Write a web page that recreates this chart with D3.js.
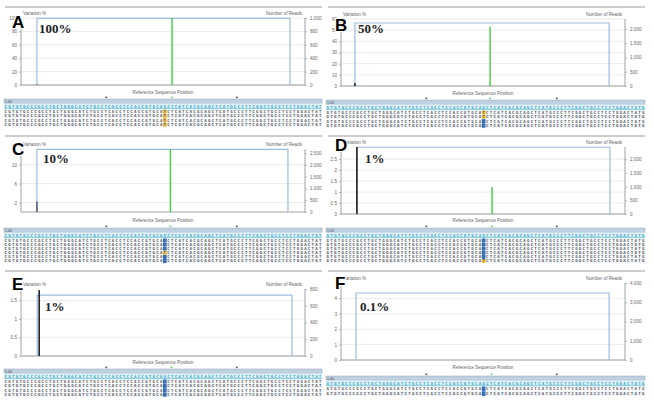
<!DOCTYPE html>
<html><head><meta charset="utf-8">
<script src="https://cdn.jsdelivr.net/npm/d3@7/dist/d3.min.js"></script>
<style>body{margin:0;background:#fff}svg{display:block}</style>
</head><body><svg id="c" width="653" height="408"></svg>
<script>
// ---------- data ----------
const panelIds = ["A","B","C","D","E","F"];
const mutantLabels = ["100%","50%","10%","1%","1%","0.1%"];
const variationMax = [100, 60, 13.3, 3.05, 1.81, 5];
const variationTicks = [[0,20,40,60,80,100],[0,10,20,30,40,50,60],[2,6,10],[0,0.5,1,1.5,2,2.5],[0,0.5,1,1.5],[0,1,2,3,4]];
const readsMax = [1000, 2350, 2670, 2450, 800, 4000];
const readsTicks = [[0,200,400,600,800,1000],[0,500,1000,1500,2000],[0,500,1000,1500,2000,2500],[0,500,1000,1500,2000],[0,200,400,600,800],[0,1000,2000,3000,4000]];
const coverageStart = [5.6, 4.9, 5.6, 5.6, 5.7, 5.3];
const coverageEnd = [94.7, 94.4, 94.0, 94.7, 95.4, 94.4];
const coverageReads = [995, 2210, 2650, 2440, 728, 3480];
const variantPos = [53.2, 52.5, 52.6, 53.2, 53.0, 53.0];
const variantFreq = [100, 53, 13.3, 1.23, 0, 0];
const noisePos = [5.6, 4.9, 5.6, 5.6, 6.4, 5.3];
const noiseFreq = [0.6, 2.6, 2.2, 3.05, 1.78, 0];
const markerPos = [30, 76];
const readAlleles = [["T","T","T","T"],["T","T","C","C"],["C","C","C","T","C","C"],["C","C","C","C","C","T"],["C","C","C","C"],["C","C"]];
const referenceSeq = "CGTGTGCCCGCCTGCTGGGCATCTGCCTCACCTCCACCGTGCAGCTCATCACGCAGCTCATGCCCTTCGGCTGCCTCCTGGACTATG";

// ---------- layout ----------
const cols = [
  {plotL:21, plotR:305, seqS:4, seqE:322, lineS:5, lineE:322, seqOff:0, letterX:12},
  {plotL:341, plotR:625, seqS:326, seqE:645, lineS:328, lineE:645, seqOff:1, letterX:335}
];
const layout = [
  {col:0, top:18, bottom:85, labelY:94, seqY:99, rowH:4.3, letterY:28, pctY:33, pctX:39},
  {col:1, top:19, bottom:86, labelY:95, seqY:100, rowH:4.3, letterY:31, pctY:33, pctX:358},
  {col:0, top:149, bottom:212, labelY:222, seqY:228, rowH:4.1, letterY:155, pctY:163, pctX:43},
  {col:1, top:147, bottom:214, labelY:222, seqY:228, rowH:4.1, letterY:151, pctY:163, pctX:365},
  {col:0, top:289, bottom:356, labelY:364, seqY:369, rowH:4.3, letterY:290, pctY:311, pctX:45},
  {col:1, top:283, bottom:360, labelY:369, seqY:376, rowH:4.8, letterY:289, pctY:311, pctX:360}
];
const sepY = [7, 136, 271];

const svg = d3.select("#c");
const FONT = "Liberation Sans, Arial, sans-serif";

sepY.forEach(y => cols.forEach(c => {
  svg.append("line").attr("x1", c.lineS).attr("x2", c.lineE).attr("y1", y).attr("y2", y)
    .attr("stroke", "#9a9a9a").attr("stroke-width", 1);
}));

const commaFmt = d3.format(",");

panelIds.forEach((id, i) => {
  const L = layout[i], C = cols[L.col];
  const g = svg.append("g");
  const x = d3.scaleLinear().domain([0, 100]).range([C.plotL, C.plotR]);
  const yL = d3.scaleLinear().domain([0, variationMax[i]]).range([L.bottom, L.top]);
  const yR = d3.scaleLinear().domain([0, readsMax[i]]).range([L.bottom, L.top]);

  // gridlines
  g.append("g").selectAll("line").data(variationTicks[i]).join("line")
    .attr("x1", C.plotL).attr("x2", C.plotR)
    .attr("y1", d => yL(d)).attr("y2", d => yL(d))
    .attr("stroke", "#e2e2e2").attr("stroke-width", 0.7);

  // axes
  const aL = g.append("g").attr("transform", `translate(${C.plotL},0)`)
    .call(d3.axisLeft(yL).tickValues(variationTicks[i]).tickSize(2).tickPadding(2).tickFormat(d => d));
  const aR = g.append("g").attr("transform", `translate(${C.plotR},0)`)
    .call(d3.axisRight(yR).tickValues(readsTicks[i]).tickSize(2).tickPadding(3).tickFormat(commaFmt));
  [aL, aR].forEach(a => {
    a.select(".domain").attr("stroke", "#8a8a8a").attr("stroke-width", 0.8)
      .attr("d", `M0,${L.top}V${L.bottom}`);
    a.selectAll(".tick line").attr("stroke", "#8a8a8a").attr("stroke-width", 0.6);
    a.selectAll(".tick text").attr("fill", "#666").attr("font-size", 4.6).attr("font-family", FONT);
  });
  g.append("line").attr("x1", C.plotL).attr("x2", C.plotR).attr("y1", L.bottom).attr("y2", L.bottom)
    .attr("stroke", "#8a8a8a").attr("stroke-width", 0.8);

  // axis titles
  g.append("text").attr("x", C.plotL + 2).attr("y", L.top - 3).text("Variation %")
    .attr("font-size", 4.6).attr("fill", "#666").attr("font-family", FONT);
  g.append("text").attr("x", C.plotR - 3).attr("y", L.top - 3).attr("text-anchor", "end").text("Number of Reads")
    .attr("font-size", 4.6).attr("fill", "#666").attr("font-family", FONT);
  g.append("text").attr("x", (C.plotL + C.plotR) / 2).attr("y", L.labelY).attr("text-anchor", "middle")
    .text("Reference Sequence Position").attr("font-size", 4.6).attr("fill", "#666").attr("font-family", FONT);

  // coverage line
  const cov = [[coverageStart[i], 0], [coverageStart[i], coverageReads[i]], [coverageEnd[i], coverageReads[i]], [coverageEnd[i], 0]];
  g.append("path").attr("d", d3.line().x(d => x(d[0])).y(d => yR(d[1]))(cov))
    .attr("fill", "none").attr("stroke", "#9dbbe0").attr("stroke-width", 1.2);

  // variant (green) bar
  if (variantFreq[i] > 0) {
    g.append("line").attr("x1", x(variantPos[i])).attr("x2", x(variantPos[i]))
      .attr("y1", yL(0)).attr("y2", yL(Math.min(variantFreq[i], variationMax[i])))
      .attr("stroke", "#3fcf3f").attr("stroke-width", 1.4);
  }
  // noise (dark) bar
  if (noiseFreq[i] > 0) {
    const h = yL(0) - yL(Math.min(noiseFreq[i], variationMax[i]));
    g.append("rect").attr("x", x(noisePos[i]) - 0.8).attr("width", 1.6)
      .attr("y", yL(0) - h).attr("height", h)
      .attr("fill", i === 2 ? "#5a6070" : "#222");
  }

  // panel letter & label
  g.append("text").attr("x", C.letterX).attr("y", L.letterY).text(id)
    .attr("font-size", 17).attr("font-weight", "bold").attr("font-family", FONT)
    .attr("fill", "#000").attr("stroke", "#fff").attr("stroke-width", 2).attr("paint-order", "stroke");
  g.append("text").attr("x", L.pctX).attr("y", L.pctY).text(mutantLabels[i])
    .attr("font-size", 13).attr("font-weight", "bold").attr("font-family", "Liberation Serif, Times New Roman, serif")
    .attr("fill", "#222");

  // ---------- sequence block ----------
  const seq = referenceSeq.slice(C.seqOff, C.seqOff + 86);
  const n = seq.length;
  const cw = (C.seqE - C.seqS) / n;
  const hiIdx = 43 - C.seqOff;
  const chars = seq.split("");
  const charX = chars.map((c, k) => (C.seqS + (k + 0.5) * cw).toFixed(2)).join(" ");

  // markers
  const mk = [markerPos[0], variantPos[i], markerPos[1]];
  g.selectAll("path.mk").data(mk).join("path").attr("class", "mk")
    .attr("d", d => `M${x(d) - 1.3},${L.seqY - 2.2}L${x(d) + 1.3},${L.seqY - 2.2}L${x(d)},${L.seqY - 0.4}Z`)
    .attr("fill", (d, k) => k === 1 ? "#3fcf3f" : "#333");

  // header bar
  g.append("rect").attr("x", C.seqS).attr("y", L.seqY).attr("width", C.seqE - C.seqS).attr("height", 4.5)
    .attr("fill", "#bfd0e1").attr("stroke", "#8ea3b8").attr("stroke-width", 0.5);
  g.append("text").attr("x", C.seqS + 1).attr("y", L.seqY + 3.7).text("1,00")
    .attr("font-size", 3.6).attr("fill", "#444").attr("font-family", FONT);
  // reference row
  const refY = L.seqY + 4.5;
  g.append("rect").attr("x", C.seqS).attr("y", refY).attr("width", C.seqE - C.seqS).attr("height", 5)
    .attr("fill", "#e3f2f9");
  g.append("text").attr("x", charX).attr("y", refY + 4).attr("text-anchor", "middle").text(seq)
    .attr("font-size", 4.3).attr("font-weight", "bold").attr("fill", "#3aa9c4").attr("font-family", "DejaVu Sans Mono, monospace");
  g.append("line").attr("x1", C.seqS).attr("x2", C.seqE).attr("y1", refY + 5.3).attr("y2", refY + 5.3)
    .attr("stroke", "#58b7cf").attr("stroke-width", 0.9);

  // reads
  const readsY = refY + 6;
  readAlleles[i].forEach((al, r) => {
    const ry = readsY + r * L.rowH;
    g.append("rect").attr("x", C.seqS).attr("y", ry).attr("width", C.seqE - C.seqS).attr("height", L.rowH)
      .attr("fill", r % 2 ? "#f1f4f8" : "#fbfcfd");
    g.append("rect").attr("x", C.seqS + hiIdx * cw).attr("y", ry).attr("width", cw).attr("height", L.rowH)
      .attr("fill", al === "T" ? "#f2c23a" : "#2f78d6");
    const rs = chars.slice(); rs[hiIdx] = al;
    g.append("text").attr("x", charX).attr("y", ry + L.rowH * 0.82).attr("text-anchor", "middle").text(rs.join(""))
      .attr("font-size", 4.1).attr("font-weight", "bold").attr("fill", "#5a5a5a").attr("font-family", "DejaVu Sans Mono, monospace");
  });
});
</script></body></html>
